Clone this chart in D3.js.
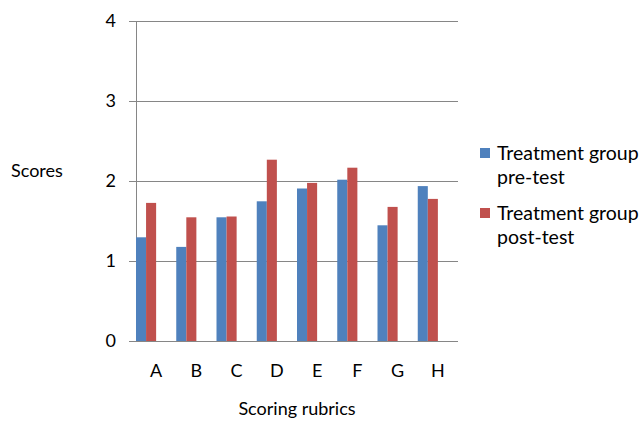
<!DOCTYPE html>
<html>
<head>
<meta charset="utf-8">
<script src="https://cdn.jsdelivr.net/npm/d3@7"></script>
<style>
	body { margin: 0; background: #fff; }
	text { font-family: Lato, "Open Sans", sans-serif; fill: #000; }
</style>
</head>
<body>
<script>
(function () {
	"use strict";

	var categories = ["A", "B", "C", "D", "E", "F", "G", "H"];
	var seriesNames = ["Treatment group pre-test", "Treatment group post-test"];
	var preTest = [1.30, 1.18, 1.55, 1.75, 1.91, 2.02, 1.45, 1.94];
	var postTest = [1.73, 1.55, 1.56, 2.27, 1.98, 2.17, 1.68, 1.78];
	var yTicks = [0, 1, 2, 3, 4];

	var w = 641;
	var h = 421;
	var left = 136, right = 458, top = 21.3, bottom = 341.3;
	var colors = ["#4f81bd", "#c0504d"];

	var xScale = d3.scaleBand()
		.domain(categories)
		.range([left, right]);

	// bars only fill the left half of each category slot
	var xSub = d3.scaleBand()
		.domain(seriesNames)
		.range([0, xScale.bandwidth() / 2]);

	var yScale = d3.scaleLinear()
		.domain([0, 4])
		.range([bottom, top]);

	var svg = d3.select("body")
		.append("svg")
		.attr("width", w)
		.attr("height", h);

	// gridlines + tick marks
	svg.append("g")
		.attr("transform", "translate(" + left + ",0)")
		.call(d3.axisLeft(yScale)
			.tickValues(yTicks)
			.tickSize(-(right - left))
			.tickFormat(""))
		.call((g) => g.select(".domain").remove())
		.call((g) => g.selectAll("line")
			.attr("stroke", "#868686")
			.attr("x1", -7)
			.attr("shape-rendering", "crispEdges"));

	// y axis line
	svg.append("line")
		.attr("x1", left).attr("x2", left)
		.attr("y1", yScale(4)).attr("y2", yScale(0))
		.attr("stroke", "#868686")
		.attr("shape-rendering", "crispEdges");

	// y tick labels
	svg.append("g")
		.selectAll("text")
		.data(yTicks)
		.enter().append("text")
		.attr("x", 116)
		.attr("y", (d) => yScale(d) + 6)
		.attr("text-anchor", "end")
		.attr("font-size", 18)
		.text((d) => d);

	var rows = categories.map((c, i) => ({ cat: c, vals: [preTest[i], postTest[i]] }));

	var groups = svg.append("g")
		.selectAll("g")
		.data(rows)
		.enter().append("g")
		.attr("transform", (d) => "translate(" + xScale(d.cat) + ",0)");

	groups.selectAll("rect")
		.data((d) => d.vals.map((v, j) => ({ name: seriesNames[j], v: v, j: j })))
		.enter().append("rect")
		.attr("x", (d) => xSub(d.name))
		.attr("width", xSub.bandwidth())
		.attr("y", (d) => yScale(d.v))
		.attr("height", (d) => yScale(0) - yScale(d.v))
		.attr("fill", (d) => colors[d.j]);

	// baseline on top of bars
	svg.append("line")
		.attr("x1", left - 7).attr("x2", right)
		.attr("y1", yScale(0)).attr("y2", yScale(0))
		.attr("stroke", "#868686")
		.attr("shape-rendering", "crispEdges");

	// category labels
	svg.append("g")
		.selectAll("text")
		.data(categories)
		.enter().append("text")
		.attr("x", (d) => xScale(d) + xScale.bandwidth() / 2)
		.attr("y", 377)
		.attr("text-anchor", "middle")
		.attr("font-size", 18)
		.text((d) => d);

	svg.append("text")
		.attr("x", (left + right) / 2)
		.attr("y", 415)
		.attr("text-anchor", "middle")
		.attr("font-size", 18)
		.text("Scoring rubrics");

	svg.append("text")
		.attr("x", 11)
		.attr("y", 177)
		.attr("font-size", 18)
		.text("Scores");

	// legend
	var legend = svg.append("g")
		.selectAll("g")
		.data(seriesNames)
		.enter().append("g")
		.attr("transform", (d, i) => "translate(480," + (148 + i * 60) + ")");

	legend.append("rect")
		.attr("width", 10)
		.attr("height", 10)
		.attr("fill", (d, i) => colors[i]);

	legend.append("text")
		.attr("x", 17)
		.attr("y", 12)
		.attr("font-size", 19.5)
		.text("Treatment group");

	legend.append("text")
		.attr("x", 17)
		.attr("y", 36)
		.attr("font-size", 19.5)
		.text((d) => d.replace("Treatment group ", ""));
})();
</script>
</body>
</html>
